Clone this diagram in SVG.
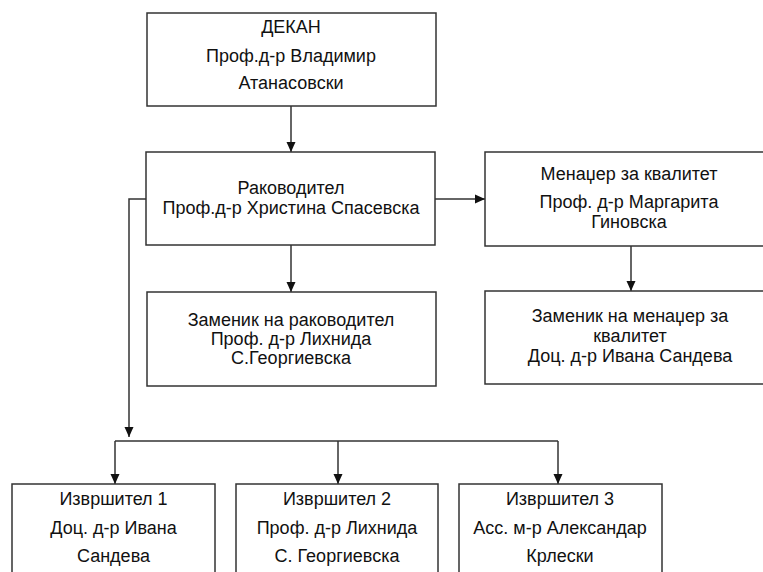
<svg xmlns="http://www.w3.org/2000/svg" width="763" height="572" viewBox="0 0 763 572">
<style>
.box{fill:#fff;stroke:#333;stroke-width:1.5}
.ln{fill:none;stroke:#333;stroke-width:1.5}
text{font-family:"Liberation Sans",Arial,sans-serif;font-size:18px;fill:#111;text-anchor:middle}
</style>
<defs>
<marker id="ah" markerUnits="userSpaceOnUse" markerWidth="10" markerHeight="10" viewBox="0 0 10 10" refX="10" refY="5" orient="auto">
<path d="M0,0.5 L10,5 L0,9.5 Z" fill="#111"/>
</marker>
</defs>
<rect width="763" height="572" fill="#fff"/>
<g id="connectors">
<line class="ln" x1="291" y1="106" x2="291" y2="152" marker-end="url(#ah)"/>
<line class="ln" x1="435" y1="199" x2="485" y2="199" marker-end="url(#ah)"/>
<line class="ln" x1="291" y1="245" x2="291" y2="292" marker-end="url(#ah)"/>
<line class="ln" x1="631" y1="246" x2="631" y2="291" marker-end="url(#ah)"/>
<polyline class="ln" points="146,199 129,199 129,437" marker-end="url(#ah)"/>
<line class="ln" x1="115" y1="441" x2="558" y2="441"/>
<line class="ln" x1="115" y1="441" x2="115" y2="484" marker-end="url(#ah)"/>
<line class="ln" x1="338" y1="441" x2="338" y2="484" marker-end="url(#ah)"/>
<line class="ln" x1="558" y1="441" x2="558" y2="484" marker-end="url(#ah)"/>
</g>
<g id="dekan">
<rect class="box" x="147" y="13" width="289" height="93"/>
<text x="291" y="33">ДЕКАН</text>
<text x="291" y="62">Проф.д-р Владимир</text>
<text x="291" y="89">Атанасовски</text>
</g>
<g id="rakovoditel">
<rect class="box" x="146" y="152" width="289" height="93"/>
<text x="291" y="194">Раководител</text>
<text x="291" y="214">Проф.д-р Христина Спасевска</text>
</g>
<g id="menadzer">
<rect class="box" x="485" y="152" width="288" height="94"/>
<text x="629" y="180">Менаџер за квалитет</text>
<text x="629" y="208">Проф. д-р Маргарита</text>
<text x="629" y="228">Гиновска</text>
</g>
<g id="zamenik-rakovoditel">
<rect class="box" x="147" y="292" width="289" height="94"/>
<text x="291" y="326">Заменик на раководител</text>
<text x="291" y="345">Проф. д-р Лихнида</text>
<text x="291" y="364">С.Георгиевска</text>
</g>
<g id="zamenik-menadzer">
<rect class="box" x="485" y="291" width="288" height="93"/>
<text x="630" y="322">Заменик на менаџер за</text>
<text x="630" y="342">квалитет</text>
<text x="630" y="362">Доц. д-р Ивана Сандева</text>
</g>
<g id="izvrshitel1">
<rect class="box" x="12" y="484" width="203" height="100"/>
<text x="113.5" y="505">Извршител 1</text>
<text x="113.5" y="534">Доц. д-р Ивана</text>
<text x="113.5" y="562">Сандева</text>
</g>
<g id="izvrshitel2">
<rect class="box" x="236" y="484" width="202" height="100"/>
<text x="337" y="505">Извршител 2</text>
<text x="337" y="534">Проф. д-р Лихнида</text>
<text x="337" y="562">С. Георгиевска</text>
</g>
<g id="izvrshitel3">
<rect class="box" x="459" y="484" width="203" height="100"/>
<text x="560" y="505">Извршител 3</text>
<text x="560" y="534">Асс. м-р Александар</text>
<text x="560" y="562">Крлески</text>
</g>
</svg>
